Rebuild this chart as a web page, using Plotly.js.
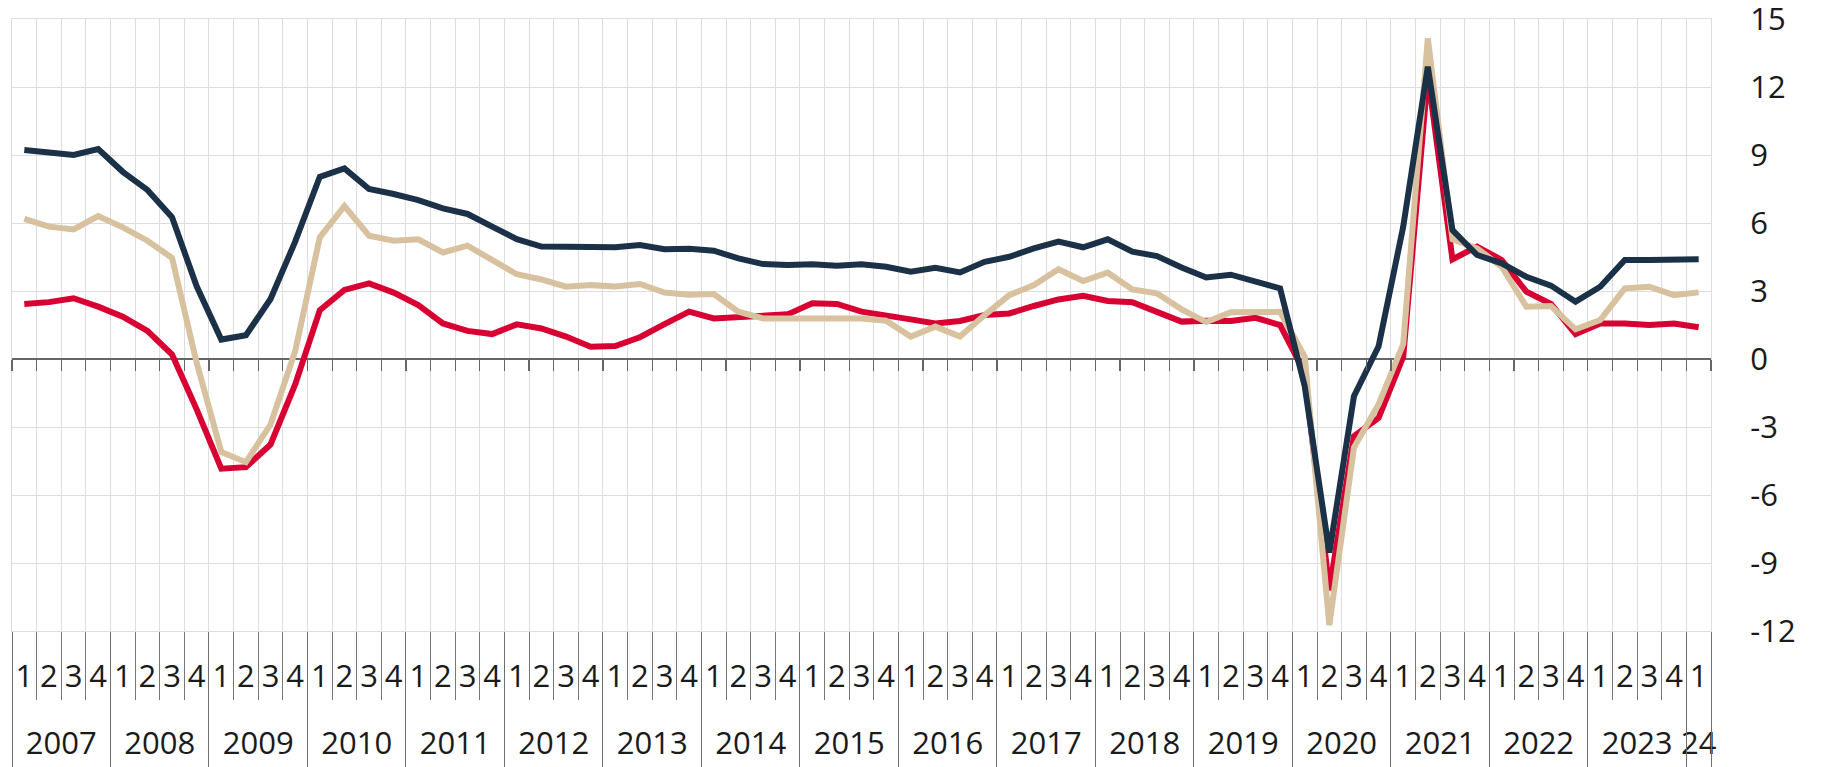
<!DOCTYPE html>
<html>
<head>
<meta charset="utf-8">
<script src="https://cdn.plot.ly/plotly-3.0.1.min.js"></script>
<style>html,body{margin:0;padding:0;background:#fff;}#chart{width:1834px;height:767px;}</style>
</head>
<body>
<div id="chart"></div>
<script>
// Tick labels
var yearLabels = ["2007","2008","2009","2010","2011","2012","2013","2014","2015","2016","2017","2018","2019","2020","2021","2022","2023","24"];
var quarterLabels = ["1","2","3","4"];
var yTickValues = [-12, -9, -6, -3, 0, 3, 6, 9, 12, 15];
var yTickText = ["-12", "-9", "-6", "-3", "0", "3", "6", "9", "12", "15"];

// Series values, 2007 Q1 .. 2024 Q1
var seriesNavy = [9.22,9.12,9.0,9.26, 8.26,7.46,6.25,3.21, 0.86,1.05,2.65,5.18, 8.04,8.41,7.5,7.28,
  7.01,6.65,6.4,5.84, 5.29,4.96,4.94,4.96, 4.93,5.03,4.84,4.87, 4.78,4.44,4.19,4.15,
  4.18,4.12,4.18,4.07, 3.85,4.03,3.82,4.29, 4.51,4.88,5.18,4.93, 5.28,4.74,4.54,4.04,
  3.6,3.72,3.41,3.12, -1.2,-8.54,-1.64,0.56, 5.84,12.9,5.69,4.59, 4.22,3.63,3.24,2.53,
  3.19,4.37,4.37,4.37, 4.4];
var seriesTan = [6.18,5.84,5.72,6.31, 5.81,5.22,4.46,-0.17, -4.1,-4.55,-2.89,0.34, 5.37,6.75,5.44,5.22,
  5.28,4.7,5.0,4.4, 3.74,3.51,3.19,3.26, 3.2,3.31,2.93,2.84, 2.87,2.09,1.79,1.79,
  1.79,1.79,1.79,1.69, 0.99,1.43,0.99,1.94, 2.82,3.26,3.96,3.44, 3.81,3.07,2.9,2.19,
  1.63,2.06,2.06,2.08, 0.1,-11.74,-3.9,-2.0, 0.66,14.15,5.28,4.88, 4.07,2.31,2.34,1.31,
  1.72,3.12,3.19,2.82, 2.94];
var seriesRed = [2.43,2.51,2.68,2.31, 1.87,1.24,0.2,-2.22, -4.84,-4.77,-3.77,-1.12, 2.15,3.05,3.34,2.93,
  2.38,1.57,1.24,1.1, 1.53,1.35,0.99,0.54, 0.57,0.96,1.54,2.09, 1.79,1.87,1.94,1.97,
  2.46,2.43,2.09,1.94, 1.75,1.57,1.68,1.94, 2.01,2.34,2.63,2.79, 2.56,2.51,2.09,1.65,
  1.69,1.68,1.82,1.5, -0.61,-10.2,-3.4,-2.6, 0.1,12.5,4.4,4.96, 4.37,2.97,2.43,1.1,
  1.57,1.57,1.5,1.57, 1.4];

var nPoints = seriesNavy.length;
var xIndex = [], quarterCenters = [], quarterText = [], quarterBounds = [];
for (var i = 0; i < nPoints; i++) {
  xIndex.push(i);
  quarterCenters.push(i);
  quarterText.push(quarterLabels[i % 4]);
  quarterBounds.push(i - 0.5);
}
quarterBounds.push(nPoints - 0.5);

var yearCenters = [], yearBounds = [];
for (var k = 0; k < yearLabels.length; k++) {
  var first = k * 4, last = Math.min(k * 4 + 3, nPoints - 1);
  yearCenters.push((first + last) / 2);
  yearBounds.push(first - 0.5);
}
yearBounds.push(nPoints - 0.5);

var xRange = [-0.5, nPoints - 0.5];

function line(y, color) {
  return {x: xIndex, y: y, type: 'scatter', mode: 'lines',
    line: {color: color, width: 6, shape: 'linear'}, hoverinfo: 'y', showlegend: false};
}
function helper(axisId) {
  return {x: xIndex, y: xIndex.map(function(){return null;}), xaxis: axisId, yaxis: 'y',
    type: 'scatter', mode: 'lines', hoverinfo: 'skip', showlegend: false};
}

var traces = [
  line(seriesRed, '#d80032'),
  line(seriesTan, '#d7c19e'),
  line(seriesNavy, '#1b3148'),
  helper('x2'), helper('x3'), helper('x4'), helper('x5')
];

var font = {family: 'Open Sans, sans-serif', size: 31, color: '#1a1a1a'};

function overlayAxis(extra) {
  var base = {overlaying: 'x', anchor: 'y', side: 'bottom', range: xRange,
    tickmode: 'array', showgrid: false, zeroline: false, showline: false,
    tickangle: 0, tickfont: font, ticklabeloverflow: 'allow'};
  for (var key in extra) base[key] = extra[key];
  return base;
}

var layout = {
  width: 1834, height: 767,
  margin: {l: 12, r: 123, t: 19, b: 136, pad: 0},
  paper_bgcolor: '#fff', plot_bgcolor: '#fff',
  font: font,
  showlegend: false,
  // quarter boundaries: vertical grid + quarter divider ticks
  xaxis: {
    range: xRange,
    tickmode: 'array', tickvals: quarterBounds,
    showticklabels: false,
    ticks: 'outside', ticklen: 68, tickcolor: '#777777', tickwidth: 1,
    showgrid: true, gridcolor: '#dddddd', gridwidth: 1,
    showline: true, linecolor: '#dddddd', linewidth: 1, mirror: true,
    zeroline: false
  },
  // quarter labels
  xaxis2: overlayAxis({tickvals: quarterCenters, ticktext: quarterText, ticks: '', ticklabelstandoff: 24}),
  // year labels
  xaxis3: overlayAxis({tickvals: yearCenters, ticktext: yearLabels, ticks: '', ticklabelstandoff: 91}),
  // year dividers
  xaxis4: overlayAxis({tickvals: yearBounds, showticklabels: false, ticks: 'outside', ticklen: 136, tickcolor: '#6e6e6e', tickwidth: 1}),
  // tick marks on the zero line
  xaxis5: {
    overlaying: 'x', anchor: 'free', position: 12 / 27, range: xRange,
    tickmode: 'array', tickvals: quarterBounds,
    ticks: 'outside', ticklen: 11, tickcolor: '#666666', tickwidth: 1.2,
    showticklabels: false, showgrid: false, zeroline: false, showline: false
  },
  yaxis: {
    side: 'right',
    range: [-12, 15.002],
    tickmode: 'array', tickvals: yTickValues, ticktext: yTickText,
    showgrid: true, gridcolor: '#dddddd', gridwidth: 1,
    zeroline: true, zerolinecolor: '#666666', zerolinewidth: 1.5,
    ticks: '',
    showline: true, linecolor: '#dddddd', linewidth: 1, mirror: true,
    tickfont: font,
    ticklabeloverflow: 'allow',
    ticklabelstandoff: 32
  }
};

Plotly.newPlot('chart', traces, layout, {staticPlot: true, displayModeBar: false});
</script>
</body>
</html>
